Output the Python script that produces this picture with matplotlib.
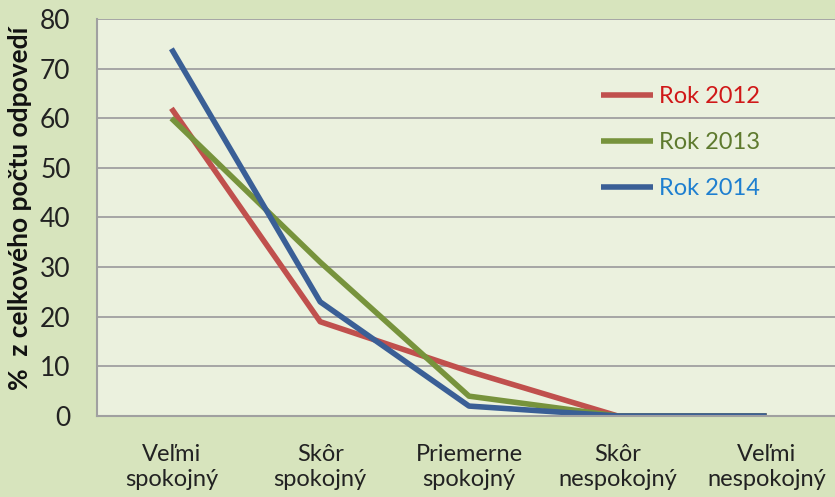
import matplotlib.pyplot as plt

categories = ['Veľmi\nspokojný', 'Skôr\nspokojný', 'Priemerne\nspokojný', 'Skôr\nnespokojný', 'Veľmi\nnespokojný']
rok_2012 = [62, 19, 9, 0, 0]
rok_2013 = [60, 31, 4, 0, 0]
rok_2014 = [74, 23, 2, 0, 0]
series_names = ['Rok 2012', 'Rok 2013', 'Rok 2014']
line_colors = ['#C0504D', '#77933C', '#3A5F96']
text_colors = ['#D01818', '#5E7A2E', '#1E7FD0']

plt.rcParams['font.family'] = ['Lato', 'DejaVu Sans']

fig = plt.figure(figsize=(8.35, 4.97), dpi=100)
fig.patch.set_facecolor('#D7E4BD')
# plot area runs past the right edge, like in the original
ax = fig.add_axes([97 / 835, 81 / 497, 744 / 835, 397 / 497])
ax.set_facecolor('#EBF1DE')

x = range(len(categories))
for vals, name, col in zip([rok_2012, rok_2013, rok_2014], series_names, line_colors):
    ax.plot(x, vals, color=col, linewidth=4, label=name, solid_capstyle='butt')

ax.set_xlim(-0.5, 4.5)
ax.set_ylim(0, 80)
ax.set_yticks(range(0, 81, 10))
ax.set_xticks(list(x))
ax.set_xticklabels(categories, fontsize=17, color='#222222', linespacing=1.25)
ax.tick_params(axis='x', length=0, pad=20)
ax.tick_params(axis='y', length=0, pad=19, labelsize=19, labelcolor='#222222')
ax.grid(axis='y', color='#A0A0A0', linewidth=1.3)
ax.set_axisbelow(True)
for s in ['top', 'right']:
    ax.spines[s].set_visible(False)
for s in ['left', 'bottom']:
    ax.spines[s].set_color('#A0A0A0')
    ax.spines[s].set_linewidth(1.5)

fig.text(20 / 835, 0.58, '%  z celkového počtu odpovedí', rotation=90, fontsize=19,
         fontweight='bold', ha='center', va='center', color='#111111')

leg = ax.legend(loc='upper left', bbox_to_anchor=(580 / 835, 1 - 65 / 497),
                bbox_transform=fig.transFigure, frameon=False, fontsize=17,
                handlelength=2.2, handletextpad=0.25, labelspacing=1.05,
                labelcolor=text_colors)

fig.savefig('out.png', dpi=100, facecolor=fig.get_facecolor())
